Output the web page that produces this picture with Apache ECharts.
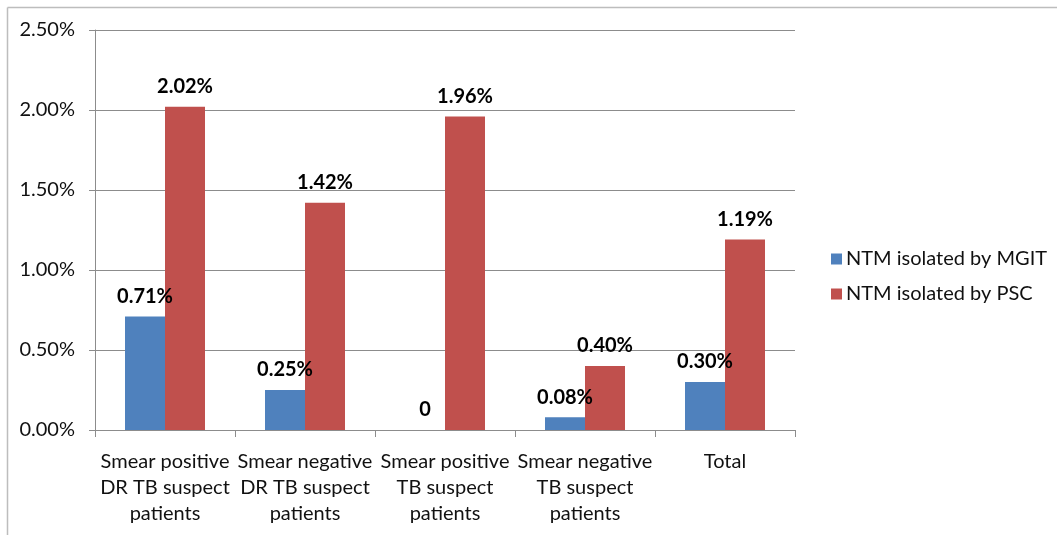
<!DOCTYPE html>
<html>
<head>
<meta charset="utf-8">
<script src="https://cdn.jsdelivr.net/npm/echarts@6/dist/echarts.min.js"></script>
<style>
  html, body { margin: 0; padding: 0; background: #ffffff; }
  #chart { width: 1057px; height: 535px; }
</style>
</head>
<body>
<div id="chart"></div>
<script>
const categories = [
  "Smear positive\nDR TB suspect\npatients",
  "Smear negative\nDR TB suspect\npatients",
  "Smear positive\nTB suspect\npatients",
  "Smear negative\nTB suspect\npatients",
  "Total"
];
const mgitValues = [0.71, 0.25, 0, 0.08, 0.30];
const pscValues = [2.02, 1.42, 1.96, 0.40, 1.19];
const yTicks = [0, 0.5, 1.0, 1.5, 2.0, 2.5];

const fontFamily = "Lato, 'Open Sans', sans-serif";

const chart = echarts.init(document.getElementById("chart"));

function labelFmt(p) {
  return p.value === 0 ? "0" : p.value.toFixed(2) + "%";
}

chart.setOption({
  backgroundColor: "#ffffff",
  animation: false,
  graphic: [
    { type: "line", shape: { x1: 7.5, y1: 7.5, x2: 1057, y2: 7.5 }, style: { stroke: "#bdbdbd", lineWidth: 1.5 } },
    { type: "line", shape: { x1: 7.5, y1: 7.5, x2: 7.5, y2: 535 }, style: { stroke: "#bdbdbd", lineWidth: 1.5 } }
  ],
  legend: {
    orient: "vertical",
    left: 826,
    top: 244,
    itemWidth: 11,
    itemHeight: 11,
    itemGap: 15,
    icon: "rect",
    textStyle: { fontFamily: fontFamily, fontSize: 20, color: "#111111", padding: [0, 0, 0, -1] },
    data: ["NTM isolated by MGIT", "NTM isolated by PSC"]
  },
  grid: {
    left: 95,
    right: 262,
    top: 30,
    bottom: 105
  },
  xAxis: {
    type: "category",
    data: categories,
    axisLine: { lineStyle: { color: "#8c8c8c" } },
    axisTick: { show: true, length: 7, lineStyle: { color: "#8c8c8c" } },
    axisLabel: {
      interval: 0,
      margin: 19,
      fontFamily: fontFamily,
      fontSize: 20,
      lineHeight: 26,
      color: "#111111"
    }
  },
  yAxis: {
    type: "value",
    min: 0,
    max: 2.5,
    interval: 0.5,
    axisLine: { show: true, lineStyle: { color: "#8c8c8c" } },
    axisTick: { show: true, length: 6, lineStyle: { color: "#8c8c8c" } },
    splitLine: { lineStyle: { color: "#8c8c8c" } },
    axisLabel: {
      margin: 20,
      fontFamily: fontFamily,
      fontSize: 20,
      color: "#111111",
      formatter: function (v) {
        return yTicks.indexOf(v) >= 0 ? v.toFixed(2) + "%" : "";
      }
    }
  },
  series: [
    {
      name: "NTM isolated by MGIT",
      type: "bar",
      data: mgitValues,
      barWidth: 40,
      barGap: "0%",
      itemStyle: { color: "#4f81bd" },
      label: {
        show: true,
        position: "top",
        distance: 10,
        fontFamily: fontFamily,
        fontSize: 20,
        fontWeight: "bold",
        color: "#000000",
        formatter: labelFmt
      }
    },
    {
      name: "NTM isolated by PSC",
      type: "bar",
      data: pscValues,
      barWidth: 40,
      barGap: "0%",
      itemStyle: { color: "#c0504d" },
      label: {
        show: true,
        position: "top",
        distance: 10,
        fontFamily: fontFamily,
        fontSize: 20,
        fontWeight: "bold",
        color: "#000000",
        formatter: labelFmt
      }
    }
  ]
});
</script>
</body>
</html>
